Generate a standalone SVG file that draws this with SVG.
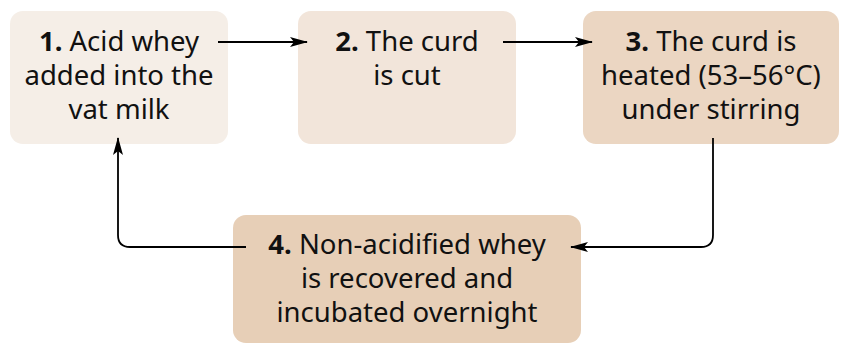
<svg xmlns="http://www.w3.org/2000/svg" width="844" height="344" viewBox="0 0 844 344">
<defs>
<style>
.t{font-family:"Noto Sans","Liberation Sans",sans-serif;font-size:27.5px;fill:#111;text-anchor:middle}
.b{font-weight:bold}
.c{fill:none;stroke:#000;stroke-width:1.8}
</style>
<marker id="ah" viewBox="0 0 18 10" refX="17" refY="5" markerWidth="18" markerHeight="10" markerUnits="userSpaceOnUse" orient="auto">
<path d="M0,0 L18,5 L0,10 L4,5 Z" fill="#000"/>
</marker>
</defs>
<rect width="844" height="344" fill="#fff"/>
<g id="n1">
<rect x="10" y="11" width="218" height="133" rx="13" fill="#f5eee7"/>
<text class="t" x="119" y="51"><tspan class="b">1.</tspan> Acid whey</text>
<text class="t" x="119" y="85">added into the</text>
<text class="t" x="119" y="119">vat milk</text>
</g>
<g id="n2">
<rect x="298" y="11" width="218" height="133" rx="13" fill="#f2e5da"/>
<text class="t" x="407" y="51"><tspan class="b">2.</tspan> The curd</text>
<text class="t" x="407" y="85">is cut</text>
</g>
<g id="n3">
<rect x="583" y="11" width="256" height="133" rx="13" fill="#ebd6c2"/>
<text class="t" x="711" y="51"><tspan class="b">3.</tspan> The curd is</text>
<text class="t" x="711" y="85">heated (53–56°C)</text>
<text class="t" x="711" y="119">under stirring</text>
</g>
<g id="n4">
<rect x="233" y="215" width="348" height="128" rx="13" fill="#e7cfb7"/>
<text class="t" x="407" y="254"><tspan class="b">4.</tspan> Non-acidified whey</text>
<text class="t" x="407" y="288">is recovered and</text>
<text class="t" x="407" y="322">incubated overnight</text>
</g>
<g id="connectors">
<path class="c" d="M218,42 H307" marker-end="url(#ah)"/>
<path class="c" d="M503,42 H592" marker-end="url(#ah)"/>
<path class="c" d="M713,138 V235 Q713,247 701,247 H571" marker-end="url(#ah)"/>
<path class="c" d="M246,247 H130 Q118,247 118,235 V138" marker-end="url(#ah)"/>
</g>
</svg>
